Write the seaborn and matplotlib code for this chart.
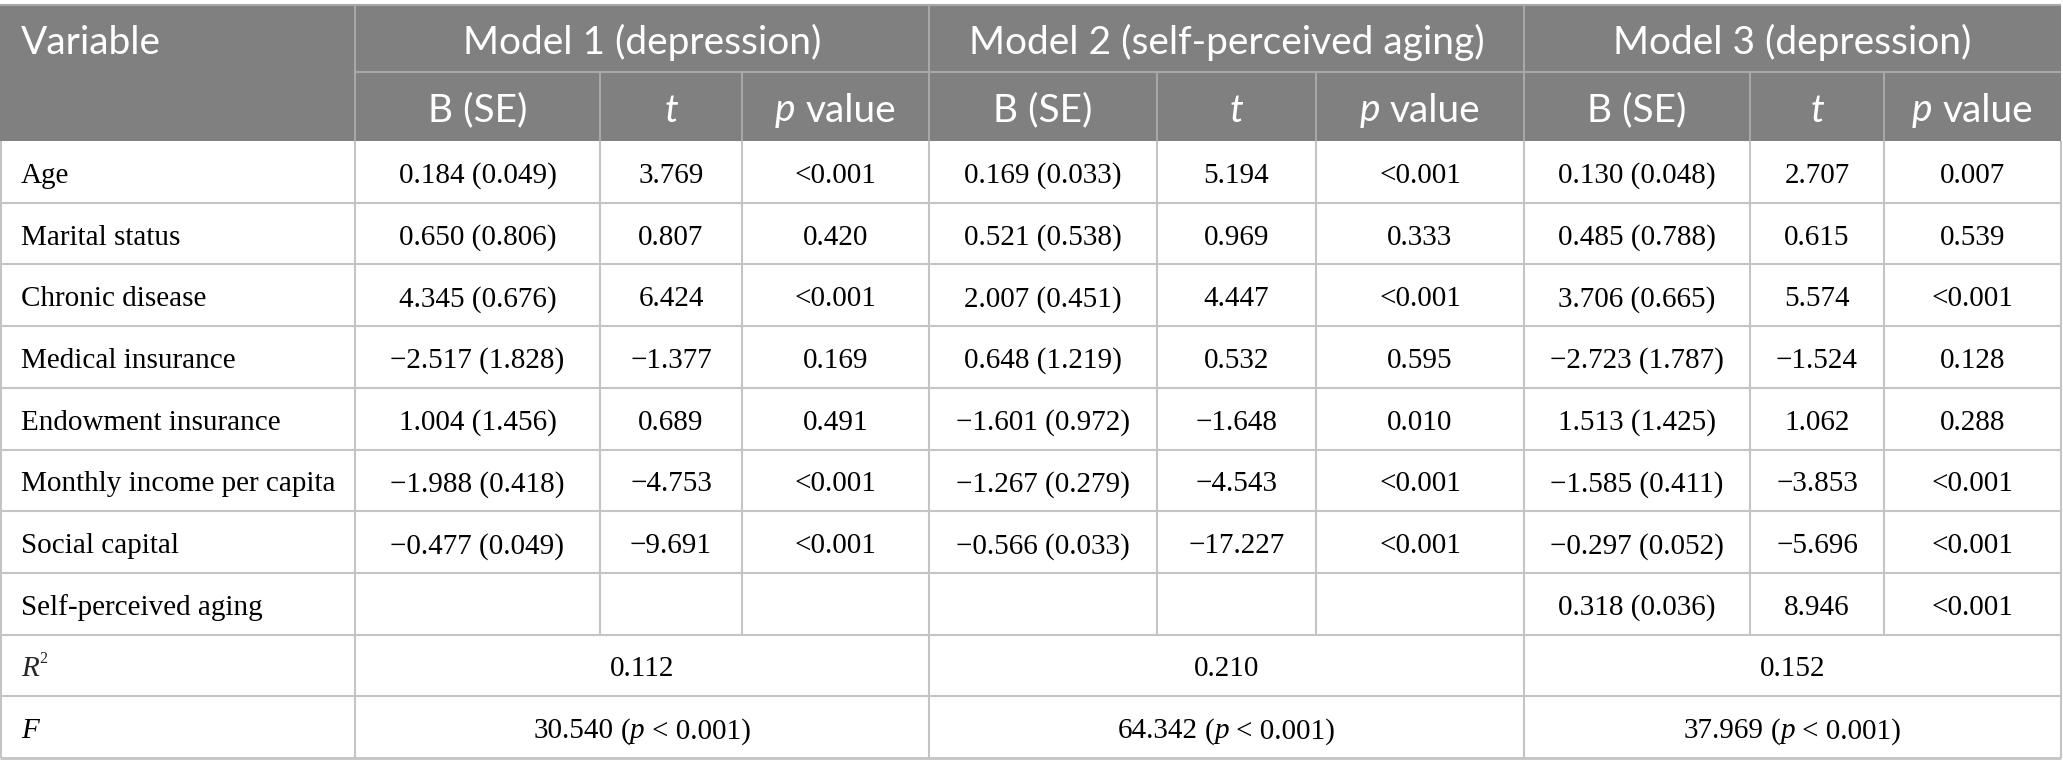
import matplotlib
matplotlib.use("Agg")
import matplotlib.pyplot as plt
import seaborn as sns

# ---- table contents ----
variables = ["Age", "Marital status", "Chronic disease", "Medical insurance",
             "Endowment insurance", "Monthly income per capita", "Social capital",
             "Self-perceived aging"]
models = ["Model 1 (depression)", "Model 2 (self-perceived aging)", "Model 3 (depression)"]

m1_b = ["0.184 (0.049)", "0.650 (0.806)", "4.345 (0.676)", "\u22122.517 (1.828)",
        "1.004 (1.456)", "\u22121.988 (0.418)", "\u22120.477 (0.049)", ""]
m1_t = ["3.769", "0.807", "6.424", "\u22121.377", "0.689", "\u22124.753", "\u22129.691", ""]
m1_p = ["<0.001", "0.420", "<0.001", "0.169", "0.491", "<0.001", "<0.001", ""]

m2_b = ["0.169 (0.033)", "0.521 (0.538)", "2.007 (0.451)", "0.648 (1.219)",
        "\u22121.601 (0.972)", "\u22121.267 (0.279)", "\u22120.566 (0.033)", ""]
m2_t = ["5.194", "0.969", "4.447", "0.532", "\u22121.648", "\u22124.543", "\u221217.227", ""]
m2_p = ["<0.001", "0.333", "<0.001", "0.595", "0.010", "<0.001", "<0.001", ""]

m3_b = ["0.130 (0.048)", "0.485 (0.788)", "3.706 (0.665)", "\u22122.723 (1.787)",
        "1.513 (1.425)", "\u22121.585 (0.411)", "\u22120.297 (0.052)", "0.318 (0.036)"]
m3_t = ["2.707", "0.615", "5.574", "\u22121.524", "1.062", "\u22123.853", "\u22125.696", "8.946"]
m3_p = ["0.007", "0.539", "<0.001", "0.128", "0.288", "<0.001", "<0.001", "<0.001"]

r2_vals = ["0.112", "0.210", "0.152"]
f_vals = ["30.540", "64.342", "37.969"]

# ---- layout ----
W, H = 2063, 776
col_x = [1, 355, 600, 742, 929, 1157, 1316, 1524, 1750, 1884, 2061]
y_top, y_mid, y_head = 5, 72, 141
row_h = 61.7
n_rows = len(variables) + 2

head_col = "#808080"
head_line = "#a8a8a8"
body_line = "#c4c4c4"
sans = "Lato"
serif = "Liberation Serif"
head_size = 28
body_size = 21
head_dy = 4
body_dy = 4

sns.set_theme(style="white")
plt.rcParams["font.family"] = [serif, "DejaVu Serif"]

fig = plt.figure(figsize=(W / 100, H / 100), dpi=100)
ax = fig.add_axes([0, 0, 1, 1])
ax.set_xlim(0, W)
ax.set_ylim(H, 0)
ax.axis("off")
renderer = fig.canvas.get_renderer()


def text_width(s, **kw):
    t = ax.text(0, 0, s, **kw)
    w = t.get_window_extent(renderer).width
    t.remove()
    return w


def put(x, y, parts, size, color="black", family=serif, ha="center"):
    # parts: list of (string, style); a leading space in a string means a gap
    space = text_width("a a", fontsize=size, family=family) - text_width("aa", fontsize=size, family=family)
    items = []
    for s, st in parts:
        gap = space if s.startswith(" ") else 0
        t = ax.text(0, y, s.strip(), fontsize=size, color=color, family=family,
                    fontstyle=st, ha="left", va="center")
        items.append((t, gap, t.get_window_extent(renderer).width))
    total = sum(g + w for _, g, w in items)
    cur = x - total / 2 if ha == "center" else x
    for t, g, w in items:
        cur += g
        t.set_x(cur)
        cur += w


# header background
ax.fill_between([0, col_x[-1]], y_top, y_head, color=head_col, lw=0)
ax.hlines(y_top, 0, col_x[-1], color=head_line, lw=1.5)
ax.hlines(y_mid, col_x[1], col_x[-1], color=head_line, lw=1.5)
ax.vlines([col_x[1], col_x[4], col_x[7]], y_top, y_head, color=head_line, lw=1.5)
ax.vlines([col_x[2], col_x[3], col_x[5], col_x[6], col_x[8], col_x[9]], y_mid, y_head,
          color=head_line, lw=1.5)

# body grid
for i in range(n_rows):
    y0 = y_head + i * row_h
    y1 = y0 + row_h
    ax.hlines(y1, 0, col_x[-1], color=body_line, lw=2 if i == n_rows - 1 else 1.5)
    xs = col_x[1:-1] if i < len(variables) else [col_x[1], col_x[4], col_x[7]]
    ax.vlines(xs, y0, y1, color=body_line, lw=1.5)
y_end = y_head + n_rows * row_h
ax.vlines([col_x[0], col_x[-1]], y_head, y_end, color=body_line, lw=1.5)

# header text
hy1 = (y_top + y_mid) / 2 + head_dy
hy2 = (y_mid + y_head) / 2 + head_dy
put(21, hy1, [("Variable", "normal")], head_size, "white", sans, ha="left")
for k, name in enumerate(models):
    xc = (col_x[1 + 3 * k] + col_x[4 + 3 * k]) / 2
    put(xc, hy1, [(name, "normal")], head_size, "white", sans)
    put((col_x[1 + 3 * k] + col_x[2 + 3 * k]) / 2, hy2, [("B (SE)", "normal")],
        head_size, "white", sans)
    put((col_x[2 + 3 * k] + col_x[3 + 3 * k]) / 2, hy2, [("t", "italic")],
        head_size, "white", sans)
    put((col_x[3 + 3 * k] + col_x[4 + 3 * k]) / 2, hy2, [("p", "italic"), (" value", "normal")],
        head_size, "white", sans)

# body text
cols = [m1_b, m1_t, m1_p, m2_b, m2_t, m2_p, m3_b, m3_t, m3_p]
for i, var in enumerate(variables):
    yc = y_head + (i + 0.5) * row_h + body_dy
    put(21, yc, [(var, "normal")], body_size, ha="left")
    for j, col in enumerate(cols):
        if col[i]:
            put((col_x[1 + j] + col_x[2 + j]) / 2, yc, [(col[i], "normal")], body_size)

# R2 and F rows
yr = y_head + (len(variables) + 0.5) * row_h + body_dy
yf = yr + row_h
t_r = ax.text(21, yr, "R", fontsize=body_size, fontstyle="italic", family=serif, va="center")
w_r = t_r.get_window_extent(renderer).width
ax.text(21 + w_r + 1, yr - 10, "2", fontsize=body_size * 0.55, family=serif, va="center")
put(21, yf, [("F", "italic")], body_size, ha="left")
for k in range(3):
    xc = (col_x[1 + 3 * k] + col_x[4 + 3 * k]) / 2
    put(xc, yr, [(r2_vals[k], "normal")], body_size)
    put(xc, yf, [(f_vals[k], "normal"), (" (", "normal"), ("p", "italic"), (" < 0.001)", "normal")],
        body_size)

fig.savefig("out.png", dpi=100)
